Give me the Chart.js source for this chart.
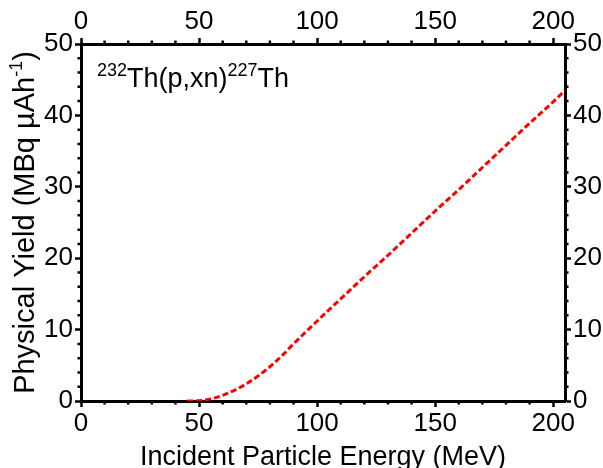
<!DOCTYPE html>
<html>
<head>
<meta charset="utf-8">
<script src="https://cdn.jsdelivr.net/npm/chart.js@4/dist/chart.umd.min.js"></script>
<style>
html,body{margin:0;padding:0;background:#fff;}
#wrap{width:603px;height:468px;position:relative;}
</style>
</head>
<body>
<div id="wrap"><canvas id="c" width="603" height="468"></canvas></div>
<script>
// Data
const energy = [45, 50, 55, 60, 65, 70, 75, 80, 85, 90, 95, 100, 110, 120, 130, 140, 150, 160, 170, 180, 190, 200, 205];
const yieldVals = [0, 0.05, 0.3, 0.8, 1.5, 2.4, 3.5, 4.8, 6.3, 8.0, 9.6, 11.2, 14.3, 17.4, 20.4, 23.5, 26.6, 29.6, 32.7, 35.8, 38.9, 41.9, 43.5];
const xTicks = [0, 50, 100, 150, 200];
const yTicks = [0, 10, 20, 30, 40, 50];
const xMinor = [10, 20, 30, 40, 60, 70, 80, 90, 110, 120, 130, 140, 160, 170, 180, 190];
const yMinor = [2,4,6,8,12,14,16,18,22,24,26,28,32,34,36,38,42,44,46,48];
const xTitle = 'Incident Particle Energy (MeV)';

const FONT = "'Liberation Sans', Arial, sans-serif";
const tickFont = {family: FONT, size: 26};

function axisGrid(){
  return {display:true, drawOnChartArea:false, drawTicks:true, tickLength:6, tickWidth:2.5, tickColor:'#000'};
}
const border = {display:true, width:3, color:'#000'};

const minorPlugin = {
  id:'minor',
  afterDatasetsDraw(chart){
    const ctx = chart.ctx, a = chart.chartArea;
    const sx = chart.scales.x, sy = chart.scales.y;
    ctx.save();
    ctx.strokeStyle = '#000'; ctx.lineWidth = 2.5;
    ctx.beginPath();
    xMinor.forEach(v=>{
      const p = sx.getPixelForValue(v);
      ctx.moveTo(p, a.bottom); ctx.lineTo(p, a.bottom+3.5);
      ctx.moveTo(p, a.top); ctx.lineTo(p, a.top-3.5);
    });
    yMinor.forEach(v=>{
      const p = sy.getPixelForValue(v);
      ctx.moveTo(a.left, p); ctx.lineTo(a.left-3.5, p);
      ctx.moveTo(a.right, p); ctx.lineTo(a.right+3.5, p);
    });
    ctx.stroke();

    ctx.fillStyle = '#000';
    ctx.textBaseline = 'alphabetic';

    // x title
    ctx.font = "27px " + FONT;
    ctx.textAlign = 'center';
    ctx.fillText(xTitle, (a.left + a.right)/2, 465);
    ctx.textAlign = 'left';

    // annotation 232Th(p,xn)227Th
    let x = a.left + 16, base = a.top + 43;
    const big = "27px " + FONT, small = "18px " + FONT;
    const parts = [["232", small, -11],["Th(p,xn)", big, 0],["227", small, -11],["Th", big, 0]];
    parts.forEach(([t,f,dy])=>{
      ctx.font = f; ctx.fillText(t, x, base+dy); x += ctx.measureText(t).width;
    });

    // y title with superscript
    const tBig = "29px " + FONT, tSmall = "18px " + FONT;
    const yparts = [["Physical Yield (MBq \u00B5Ah", tBig, 0],["-1", tSmall, -12],[")", tBig, 0]];
    let total = 0;
    yparts.forEach(([t,f])=>{ctx.font=f; total += ctx.measureText(t).width;});
    ctx.translate(34, (a.top+a.bottom)/2);
    ctx.rotate(-Math.PI/2);
    let tx = -total/2;
    yparts.forEach(([t,f,dy])=>{
      ctx.font=f; ctx.fillText(t, tx, dy); tx += ctx.measureText(t).width;
    });
    ctx.restore();
  }
};

new Chart(document.getElementById('c'), {
  type:'line',
  data:{
    datasets:[{
      data: energy.map((e,i)=>({x:e, y:yieldVals[i]})),
      borderColor:'#ff0000', borderWidth:3, borderDash:[6,3],
      pointRadius:0, fill:false, cubicInterpolationMode:'monotone'
    }]
  },
  options:{
    responsive:false, animation:false,
    layout:{padding:0},
    plugins:{legend:{display:false}, tooltip:{enabled:false}},
    scales:{
      x:{type:'linear', position:'bottom', min:0, max:205,
         ticks:{stepSize:50, includeBounds:false, font:tickFont, color:'#000', padding:1, maxRotation:0},
         grid:axisGrid(), border:border,
         afterFit(s){s.height = 67;}},
      x2:{type:'linear', position:'top', min:0, max:205,
         ticks:{stepSize:50, includeBounds:false, font:tickFont, color:'#000', padding:1, maxRotation:0},
         grid:axisGrid(), border:border,
         afterFit(s){s.height = 44;}},
      y:{type:'linear', position:'left', min:0, max:50,
         ticks:{stepSize:10, includeBounds:false, font:tickFont, color:'#000', padding:2},
         grid:axisGrid(), border:border,
         afterFit(s){s.width = 81;}},
      y2:{type:'linear', position:'right', min:0, max:50,
         ticks:{stepSize:10, includeBounds:false, font:tickFont, color:'#000', padding:2},
         grid:axisGrid(), border:border,
         afterFit(s){s.width = 38;}}
    }
  },
  plugins:[minorPlugin]
});
</script>
</body>
</html>
